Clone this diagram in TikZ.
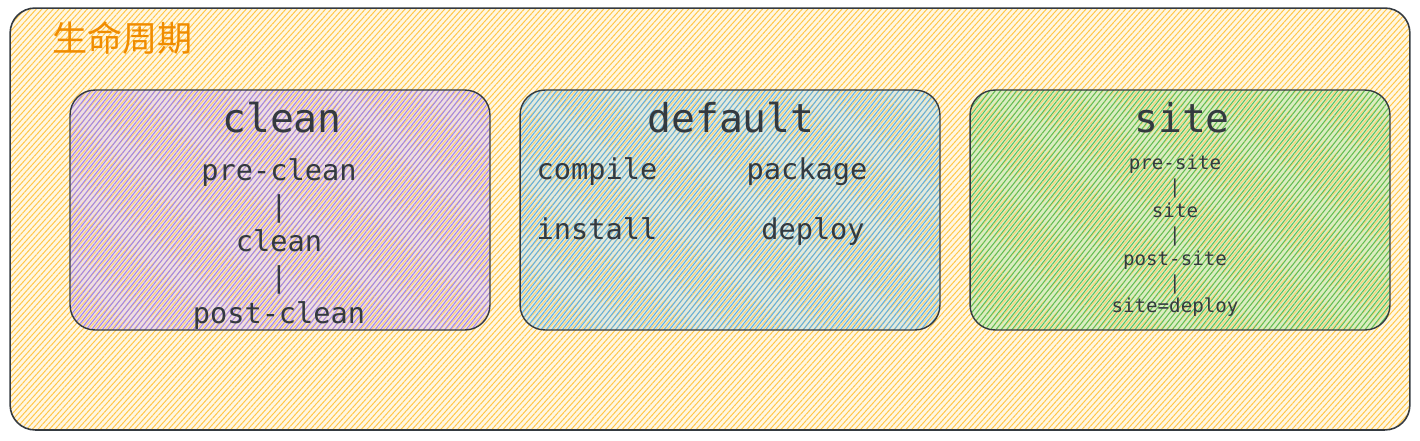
\documentclass[tikz,border=0pt]{standalone}
\usepackage{fontspec}
\setmonofont{DejaVu Sans Mono}
\newfontfamily\cjkfont{Noto Sans CJK SC}
\usetikzlibrary{patterns.meta,positioning}
\definecolor{inkgray}{HTML}{343A40}
\definecolor{titleorange}{HTML}{F08C00}
\definecolor{hachorange}{HTML}{FFC648}
\definecolor{hachviolet}{HTML}{9C82F0}
\definecolor{hachblue}{HTML}{5AAEE8}
\definecolor{hachgreen}{HTML}{55BF5E}
\definecolor{lifebase}{HTML}{FFF7E2}
\definecolor{cleanbase}{HTML}{EEDDE4}
\definecolor{defaultbase}{HTML}{E0EAE0}
\definecolor{sitebase}{HTML}{D8EEC2}

\begin{document}
\begin{tikzpicture}[
        x=0.02cm, y=-0.02cm,
        font=\ttfamily,
        hatch/.style={pattern={Lines[angle=48,distance=2.4pt,line width=0.55pt]},
            pattern color=#1},
        lifecycle/.style={draw=inkgray, line width=0.9pt, rounded corners=0.5cm,
            minimum width=28cm, minimum height=8.44cm,
            preaction={fill=lifebase}, hatch=hachorange},
        phase/.style 2 args={draw=inkgray, line width=0.8pt, rounded corners=0.5cm,
            minimum width=8.4cm, minimum height=4.8cm,
            preaction={fill=#2}, preaction={hatch=hachorange!80},
            pattern={Lines[angle=52,distance=2.4pt,line width=0.55pt]},
            pattern color=#1},
        heading/.style={text=inkgray, font=\ttfamily\fontsize{22.6}{27}\selectfont},
        stage/.style={text=inkgray, align=center, text height=0.75em, text depth=0.25em,
            font=\ttfamily\fontsize{16.3}{20.4}\selectfont},
        smallstage/.style={text=inkgray, align=center,
            font=\ttfamily\fontsize{10.9}{13.6}\selectfont}
    ]
        \useasboundingbox (0,0) rectangle (1420,440);

        % Outer lifecycle frame.
        \node[lifecycle] (life) at (710,219) {};
        \node[anchor=west, text=titleorange, font=\cjkfont\fontsize{20}{24}\selectfont]
            (lifetitle) at (46,38) {生命周期};

        % Three phases.
        \node[phase={hachviolet}{cleanbase}] (cleanbox) at (280,210) {};
        \node[phase={hachblue}{defaultbase}] (defaultbox) at (730,210) {};
        \node[phase={hachgreen}{sitebase}] (sitebox) at (1180,210) {};

        % clean phase.
        \node[heading] (cleantitle) at (282,118) {clean};
        \node[stage, text height=, text depth=] (cleansteps) at (279,244)
            {pre-clean\\|\\clean\\|\\post-clean};

        % default phase.
        \node[heading] (defaulttitle) at (731,118) {default};
        \node[stage] (compile) at (597,175) {compile};
        \node[stage] (package) at (807,175) {package};
        \node[stage] (install) at (597,235) {install};
        \node[stage] (deploy) at (813,235) {deploy};

        % site phase.
        \node[heading] (sitetitle) at (1182,118) {site};
        \node[smallstage] (sitesteps) at (1175,236)
            {pre-site\\|\\site\\|\\post-site\\|\\site=deploy};
    \end{tikzpicture}
\end{document}
